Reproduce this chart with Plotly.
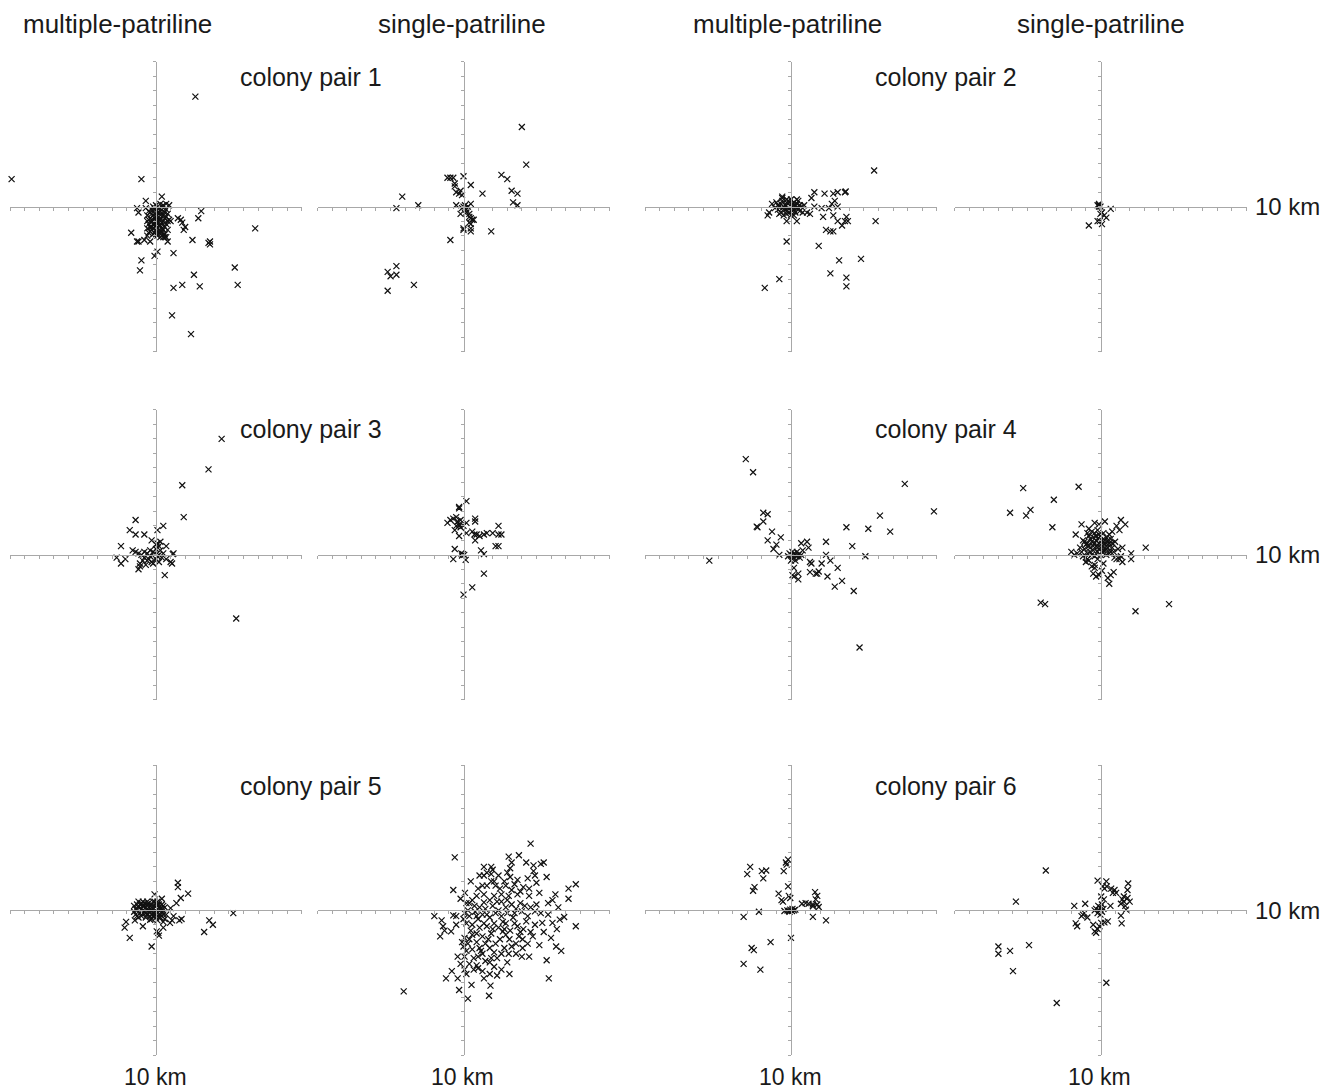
import plotly.graph_objects as go

W, H = 1331, 1092
OFF = 8  # page body margin that the browser adds around the plot div

# ---------------- data (km from colony, x = east, y = north) ----------------
pair1_multi = [(2.7,7.6),(-9.9,1.9),(-1.0,1.9),(0.4,0.7),(-0.7,0.4),(-1.3,-0.1),(-1.2,-0.4),(-0.7,-0.1),
 (0.7,0.2),(0.9,0.1),(1.5,-0.8),(1.7,-0.9),(1.8,-1.1),(2.0,-1.4),(1.9,-1.6),(3.1,-0.3),(2.9,-0.8),
 (2.5,-2.3),(3.7,-2.4),(3.7,-2.6),(3.6,-2.5),(1.2,-3.2),(0.1,-3.1),(-0.1,-3.4),(6.8,-1.5),(5.4,-4.2),
 (5.6,-5.4),(2.6,-4.7),(1.8,-5.4),(1.2,-5.6),(3.0,-5.5),(1.1,-7.5),(2.4,-8.8),(-1.0,-3.7),(-1.1,-4.4),
 (-1.7,-1.8),(-1.3,-2.4),(-1.2,-2.4),(-0.8,-2.3),(-0.4,-2.4),(0.8,-2.4),(0.6,-2.1),
 (-0.5,-0.3),(-0.3,-0.5),(-0.1,-0.2),(0.1,-0.4),(0.3,-0.3),(0.5,-0.6),(0.7,-0.2),(-0.4,-0.8),(-0.2,-1.0),
 (0.0,-0.7),(0.2,-0.9),(0.4,-1.1),(0.6,-0.8),(-0.5,-1.2),(-0.3,-1.4),(-0.1,-1.2),(0.1,-1.5),(0.3,-1.3),
 (0.5,-1.6),(0.7,-1.2),(-0.4,-1.7),(-0.2,-1.9),(0.0,-1.6),(0.2,-1.8),(0.4,-2.0),(0.6,-1.9),(-0.6,-0.6),
 (0.8,-0.5),(0.0,0.1),(0.2,-0.1),(-0.2,0.0),(0.4,0.0),(0.6,-1.4),(-0.6,-1.5),(0.1,-2.0),(-0.1,-1.8),
 (0.3,-0.6),(0.2,-1.3),(-0.3,-0.9),(0.5,-1.0),(0.1,-1.0),(-0.1,-0.5),(0.0,-1.3),(0.4,-1.5),(-0.4,-0.4),
 (0.3,-1.7),(-0.2,-1.5),(0.6,-0.4),(0.9,-0.9),(1.0,-1.0),(0.8,-1.6),(-0.6,-2.0),(0.7,-2.1),
 (-0.5,-0.9),(-0.3,-0.2),(-0.1,-0.8),(0.1,-0.6),(0.3,-0.9),(0.5,-0.3),(0.7,-0.7),(-0.4,-1.4),(-0.2,-1.2),
 (0.0,-1.9),(0.2,-1.6),(0.4,-1.8),(0.6,-1.1),(-0.5,-1.8),(-0.3,-1.6),(0.1,-1.2),(0.3,-2.1),(0.5,-2.1),
 (-0.1,-0.1),(0.3,0.2),(0.5,0.1),(0.0,-1.0),(0.2,-0.4),(-0.6,-1.0),(0.8,-1.0)]

pair1_single = [(4.0,5.5),(4.3,2.9),(2.6,2.2),(3.0,1.9),(3.3,1.1),(3.7,0.9),(3.4,0.3),(3.7,0.1),(1.3,0.9),
 (0.5,1.5),(0.0,2.1),(-1.1,2.0),(-0.9,2.0),(-0.7,2.0),(-0.6,1.6),(-0.6,1.4),(-0.5,1.0),(-0.3,0.9),
 (-0.2,1.1),(-0.1,0.8),(-0.5,0.1),(0.5,0.2),(-4.2,0.7),(-4.6,-0.1),(-3.1,0.1),
 (0.0,0.0),(0.1,-0.1),(0.2,-0.2),(-0.1,-0.1),(0.3,0.0),(0.1,0.1),(0.2,-0.4),(0.4,-0.5),(0.5,-0.8),
 (0.6,-0.9),(0.4,-1.1),(-0.2,-0.5),(0.4,-0.7),(0.7,-0.9),(0.5,-1.2),(0.0,-1.5),(0.0,-1.6),(0.5,-1.5),
 (0.5,-1.7),(1.9,-1.7),(-0.9,-2.3),(-4.6,-4.1),(-5.2,-4.5),(-5.0,-4.8),(-4.6,-4.7),(-3.4,-5.4),(-5.2,-5.8)]

pair2_multi = [(5.7,2.5),(5.8,-1.0),(1.6,1.0),(2.3,0.9),(2.9,0.9),(3.2,1.0),(3.7,1.0),(3.75,1.05),(1.4,0.6),
 (3.0,0.4),(2.8,0.2),(3.2,0.0),(1.6,0.0),(2.1,-0.1),(2.6,-0.1),(0.9,0.1),(1.1,-0.4),(1.3,-0.5),(2.2,-0.7),
 (2.9,-0.6),(3.2,-1.0),(3.5,-1.3),(3.7,-1.0),(3.8,-0.7),(3.9,-1.0),(2.4,-1.6),(2.7,-1.7),(2.9,-1.7),
 (1.9,-2.7),(3.3,-3.7),(4.8,-3.6),(2.7,-4.6),(3.8,-4.9),(3.8,-5.5),(-0.3,-2.4),(-0.8,-5.0),(-1.8,-5.6),
 (-1.5,-0.4),(-1.6,-0.6),(-1.3,0.2),(-0.6,0.7),(0.4,-1.0),(-0.3,-1.0),
 (-1.0,0.3),(-0.8,0.0),(-0.6,0.4),(-0.4,-0.2),(-0.2,0.2),(0.0,0.0),(0.2,0.3),(0.4,-0.1),(0.5,0.4),
 (-0.7,-0.4),(-0.5,-0.6),(-0.3,0.5),(-0.1,-0.4),(0.1,-0.3),(0.3,0.1),(0.6,-0.3),(-0.9,-0.2),(-0.2,-0.1),
 (0.0,0.5),(0.2,-0.6),(-0.4,0.1),(0.4,0.5),(-0.6,-0.1),(0.1,0.2),(-0.3,-0.5),(0.7,0.0),(0.8,-0.4),
 (-0.9,0.1),(-0.7,0.2),(-0.5,0.0),(-0.3,-0.3),(-0.1,0.3),(0.1,0.0),(0.3,-0.4),(0.5,-0.1),(-0.8,-0.5),
 (-0.2,0.4),(0.2,-0.2),(0.4,0.2),(-0.6,0.6),(0.0,-0.6),(0.6,0.1),(-1.1,-0.1)]

pair2_single = [(-0.1,0.2),(-0.1,0.1),(-0.2,0.1),(0.0,0.0),(-0.1,0.0),(0.1,-0.4),(0.0,-0.5),(0.25,-0.6),
 (0.4,-0.75),(0.7,-0.15),(-0.2,-1.0),(-0.05,-1.0),(0.1,-1.2),(-0.8,-1.3)]

pair3_multi = [(4.5,8.0),(3.6,5.9),(1.8,4.8),(1.9,2.6),(5.5,-4.4),(-1.4,2.4),(-1.8,1.7),(-1.4,1.4),(-0.8,1.4),
 (0.1,1.7),(0.5,2.0),(-0.3,1.0),(-2.4,0.6),(-2.7,-0.2),(-2.4,-0.6),(-2.1,-0.3),(-1.6,0.3),(-1.4,0.2),
 (0.7,0.6),(1.2,0.1),(1.15,0.05),(0.7,-0.3),(1.0,-0.5),(1.1,-0.6),(0.6,-1.4),(-1.2,-1.0),(-1.1,-0.8),
 (-1.2,0.1),(-1.0,0.0),(-0.8,-0.2),(-0.6,-0.4),(-0.4,-0.1),(-0.2,0.2),(0.0,0.4),(0.2,0.6),(0.1,0.8),
 (-0.1,0.1),(0.3,0.3),(0.4,-0.2),(-0.3,-0.5),(-0.5,-0.3),(-0.7,-0.7),(-0.9,-0.4),(0.0,-0.3),(0.2,0.0),
 (-0.2,-0.6),(0.1,-0.1),(-0.6,0.1),(0.3,0.9),(0.0,0.7),(-0.4,0.3),(0.5,0.1),(-1.1,-0.6),(0.2,-0.5),(-0.8,0.2)]

pair3_single = [(0.2,3.7),(-0.3,3.2),(-0.3,3.3),(-1.1,2.2),(-0.9,2.4),(-0.7,2.5),(-0.5,2.6),(-0.4,2.3),
 (-0.3,2.1),(-0.2,1.9),(-0.3,2.0),(-0.6,1.7),(-0.3,1.3),(0.2,1.5),(0.2,2.2),(0.8,2.5),(0.8,2.3),(0.6,1.6),
 (0.75,1.4),(0.9,1.4),(0.8,1.0),(1.1,1.3),(1.4,1.4),(1.6,1.5),(2.0,1.5),(2.4,2.0),(2.4,1.4),(2.6,1.4),
 (2.2,0.6),(2.4,0.6),(1.2,0.3),(1.4,0.05),(-0.6,0.4),(-0.7,-0.3),(-0.15,0.1),(-0.05,0.05),(0.05,0.0),
 (-0.1,-0.05),(0.15,-0.35),(1.4,-1.3),(0.6,-2.25),(0.0,-2.75),(-0.5,2.0),(-0.2,2.4),(0.0,2.0)]

pair4_multi = [(-3.1,6.6),(-2.6,5.7),(7.8,4.9),(9.8,3.0),(6.1,2.7),(3.8,1.9),(5.3,1.8),(6.8,1.6),(4.2,0.6),
 (5.1,-0.1),(-1.9,2.9),(-1.6,2.8),(-1.9,2.3),(-2.3,1.9),(-2.35,1.95),(-1.3,1.6),(-0.7,1.2),(-1.6,1.0),
 (-1.0,0.7),(-1.2,0.4),(-0.8,0.0),(-5.6,-0.4),(0.7,0.8),(1.1,0.9),(1.2,0.5),(0.8,0.3),(2.4,0.9),
 (2.4,0.0),(1.3,-0.5),(1.4,-0.6),(2.1,-0.6),(2.7,-0.4),(3.2,-0.9),(1.3,-1.2),(1.7,-1.3),(1.9,-1.15),
 (1.8,-1.3),(2.5,-1.5),(3.0,-2.2),(3.5,-1.8),(4.3,-2.5),(4.7,-6.4),(0.2,-0.9),(0.1,-1.4),(0.5,-1.3),
 (0.5,-1.7),(0.2,-1.5),(0.0,0.0),(0.2,0.1),(0.4,-0.1),(0.1,-0.3),(-0.1,0.1),(0.3,-0.4),(0.5,0.0),
 (0.2,-0.2),(0.0,-0.4),(0.6,-0.2),(-0.2,-0.1),(0.4,0.2),(0.1,0.2),(0.3,0.0),(0.7,0.0)]

pair4_single = [(-5.3,4.6),(-1.5,4.7),(-3.2,3.8),(-6.2,2.9),(-5.1,2.7),(-4.8,3.1),(-3.3,1.9),(-1.7,1.4),
 (-4.1,-3.3),(-3.8,-3.4),(2.4,-3.9),(4.7,-3.4),(3.1,0.5),(2.1,0.1),(2.1,-0.3),(1.4,2.4),(1.7,2.1),
 (1.3,1.7),(1.1,2.0),(0.3,2.3),(-0.1,2.1),(-0.4,2.2),(-1.3,2.1),(1.5,0.5),(1.4,-0.1),(1.3,-0.3),
 (1.5,-0.5),(0.96,-0.2),(1.1,-0.3),(0.2,-0.6),(0.1,-1.1),(0.9,-1.2),(0.7,-1.4),(0.5,-1.6),(0.6,-2.0),
 (-0.1,-1.4),(-0.3,-1.5),(-0.5,-1.3),(-0.4,-0.7),(-1.0,-0.5),(-0.9,-0.3),(-2.0,0.2),(-1.8,0.0),(-1.6,0.1),
 (-1.4,0.5),(-1.2,1.0),(-1.0,0.7),(-0.8,1.3),(-0.6,0.9),(-0.4,1.5),(-0.2,1.1),(0.0,1.3),(0.2,0.9),
 (0.4,1.2),(0.6,0.8),(0.8,0.5),(1.0,0.9),(-1.3,0.2),(-1.1,0.4),(-0.9,0.1),(-0.7,0.5),(-0.5,0.3),
 (-0.3,0.6),(-0.1,0.4),(0.1,0.6),(0.3,0.3),(0.5,0.5),(0.7,0.2),(-0.6,1.6),(-0.2,1.7),(0.2,1.5),(0.6,1.4),
 (-0.8,1.8),(0.0,0.0),(-0.4,-0.1),(0.4,0.0),(-0.2,0.2),(0.1,1.0),(-0.5,1.2),(0.3,0.7),(-0.1,0.8),
 (-0.3,1.0),(0.5,1.0),(0.0,0.5),(-0.7,0.2),(-1.0,-0.2),(-0.8,-0.4),(-0.6,-0.8),(-0.4,-0.9),(0.9,0.2),
 (1.2,0.4),(-0.9,1.5),(0.8,1.6),(-1.2,-0.1),
 (-0.9,0.8),(-0.7,1.1),(-0.5,0.6),(-0.3,1.3),(-0.1,1.4),(0.1,0.2),(0.3,1.0),(0.5,0.7),(0.7,1.1),
 (-0.6,0.0),(-0.2,0.5),(0.2,0.3),(0.4,0.4),(-1.1,0.9),(0.0,0.9),(-0.4,0.8),(0.6,0.1),(-0.8,0.6),
 (0.8,0.8),(-0.2,-0.3)]

pair5_multi = [(1.5,1.9),(1.5,1.6),(2.2,1.15),(1.7,0.85),(-0.1,1.1),(0.4,0.8),(1.4,0.5),(1.0,0.15),(5.3,-0.2),
 (3.65,-0.7),(3.9,-1.0),(3.3,-1.5),(1.75,-0.6),(1.6,-0.7),(1.2,-0.4),(1.1,-0.7),(0.96,-0.87),(0.5,-1.2),
 (0.16,-1.56),(0.05,-1.45),(0.2,-1.75),(-0.3,-2.5),(-1.8,-1.9),(-2.05,-0.8),(-2.15,-1.2),(-1.45,-0.7),
 (-0.9,-1.1),(-0.4,-0.65),
 (-1.5,0.3),(-1.3,0.0),(-1.1,0.4),(-0.9,-0.2),(-0.7,0.2),(-0.5,0.5),(-0.3,0.0),(-0.1,0.3),(0.1,-0.2),
 (0.3,0.1),(0.5,-0.3),(0.6,0.2),(-1.4,-0.3),(-1.2,0.6),(-1.0,-0.4),(-0.8,0.5),(-0.6,-0.3),(-0.4,0.3),
 (-0.2,-0.4),(0.0,0.5),(0.2,-0.5),(0.4,0.4),(-1.0,0.1),(-0.8,-0.1),(-0.6,0.0),(-0.4,-0.1),(-0.2,0.1),
 (0.0,0.0),(0.2,0.2),(0.4,-0.1),(-1.2,0.2),(-0.9,0.3),(-0.5,0.2),(-0.1,-0.2),(0.3,-0.3),(0.6,-0.6),
 (-0.7,-0.5),(-0.3,-0.6),(0.1,-0.7),(0.5,-0.8),(-1.4,0.1),(-0.2,0.6),(0.1,0.4),(-0.6,0.6),(0.7,-0.3),
 (-1.3,0.4),(-1.1,-0.2),(-0.9,0.6),(-0.7,-0.2),(-0.5,-0.1),(-0.3,0.4),(-0.1,0.6),(0.1,0.1),(0.3,-0.5),
 (0.5,0.3),(-1.2,-0.5),(-0.8,0.3),(-0.4,-0.4),(0.0,-0.5),(0.2,0.4),(-1.0,0.5),(-0.6,0.4),(-0.2,-0.2),
 (0.4,0.1),(-1.5,-0.1),(-1.3,-0.4),(-0.9,0.0),(-0.3,0.2),(0.1,0.6)]

pair5_single = [(4.6,4.6),(-0.6,3.65),(3.1,3.7),(3.8,3.8),(3.3,3.3),(3.2,2.9),(4.3,3.3),(4.8,3.1),(5.3,3.2),
 (5.5,3.3),(1.4,3.0),(1.9,3.0),(2.0,2.8),(1.1,2.4),(1.4,2.4),(1.9,2.5),(3.0,2.6),(3.2,2.3),(3.7,2.1),
 (4.8,2.7),(4.9,2.4),(5.0,1.9),(5.7,2.3),(1.3,1.7),(1.6,1.7),(1.9,2.0),(2.1,2.0),(2.2,1.7),(2.8,2.0),
 (2.9,1.7),(3.5,1.8),(4.1,1.6),(4.5,1.5),(-0.7,1.4),(-0.2,0.8),(0.9,1.0),(1.4,1.1),(2.1,1.0),(2.6,1.1),
 (3.1,1.0),(3.7,1.1),(4.5,1.0),(6.3,1.1),(6.1,0.7),(7.2,0.8),(7.2,1.5),(7.7,1.8),(0.2,0.5),(0.4,0.5),
 (0.75,0.3),(1.4,0.55),(2.0,0.3),(2.6,0.6),(3.3,0.4),(3.6,0.1),(4.0,-0.07),(4.6,0.2),(4.9,-0.07),
 (5.3,-0.2),(-2.0,-0.4),(-1.5,-0.7),(-1.4,-1.1),(-1.3,-1.4),(-1.6,-1.8),(-0.85,-1.45),(-0.7,-0.35),
 (-0.5,-0.4),(0.07,-0.2),(0.4,-0.4),(0.2,-0.9),(0.6,-1.0),(1.0,-0.6),(1.3,-0.3),(1.8,-0.5),(2.1,-0.9),
 (2.6,-0.4),(2.9,-0.9),(3.4,-0.5),(3.7,-1.1),(4.3,-0.76),(4.9,-1.0),(5.4,-0.87),(6.1,-0.87),(6.6,-0.64),
 (6.9,-0.46),(7.7,-1.1),(0.07,-1.9),(0.6,-1.7),(1.3,-1.8),(1.9,-1.6),(2.7,-1.45),(3.15,-2.0),(4.05,-2.0),
 (4.75,-1.8),(5.2,-2.4),(6.35,-2.5),(6.7,-2.8),(-0.4,-3.2),(0.07,-3.2),(0.6,-2.7),(1.2,-2.8),(1.8,-2.6),
 (2.1,-2.9),(2.8,-2.6),(4.05,-2.6),(4.0,-3.2),(4.5,-3.2),(5.7,-3.45),(-0.8,-4.2),(-0.4,-4.7),(0.07,-4.1),
 (0.7,-4.1),(1.0,-4.0),(1.8,-3.6),(1.8,-4.4),(2.6,-4.1),(3.15,-4.4),(5.85,-4.7),(-1.2,-4.7),(-0.3,-5.5),
 (0.3,-6.1),(0.55,-5.15),(1.85,-5.2),(1.75,-5.9),(-4.1,-5.6),
 (0.3,0.0),(0.8,-0.1),(1.5,0.1),(2.2,-0.2),(2.9,0.2),(3.5,-0.2),(0.5,-1.4),(1.1,-1.2),(1.6,-1.1),
 (2.4,-1.2),(3.2,-1.4),(3.9,-1.5),(0.3,-2.3),(0.9,-2.2),(1.5,-2.3),(2.2,-2.3),(2.9,-1.7),(3.6,-2.3),
 (0.2,-2.8),(1.0,-3.2),(1.5,-3.5),(2.3,-3.3),(0.4,-3.7),(1.3,-4.2),(2.1,-3.9),
 (0.5,2.0),(1.0,1.5),(1.6,2.6),(2.4,2.4),(2.5,1.5),(3.3,1.4),(3.9,1.3),(4.4,2.2),(5.2,1.2),(5.8,0.5),
 (6.5,0.2),(0.1,1.2),(0.6,0.7),(1.1,0.2),(1.8,0.7),(2.4,0.0),(3.0,-0.2),(3.9,0.5),(4.4,-0.4),(5.0,0.4),
 (5.8,-0.3),(6.4,-1.3),(0.0,-0.6),(0.9,-1.6),(1.4,-0.9),(2.0,-1.3),(2.7,-0.8),(3.5,-0.9),(4.1,-1.3),
 (4.6,-1.5),(5.5,-1.5),(6.0,-1.9),(0.4,-2.0),(1.1,-2.6),(1.7,-2.0),(2.5,-2.0),(3.3,-2.5),(3.8,-1.8),
 (4.4,-2.3),(0.0,-2.5),(0.7,-3.3),(1.3,-3.0),(1.9,-3.3),(2.6,-3.0),(3.0,-3.6),(3.6,-3.0),(0.2,-4.4),
 (0.9,-3.8),(1.4,-4.7),(2.3,-4.5),(-0.2,-3.7),(-0.1,-2.2),(-0.5,-1.0),(1.6,-0.3),(2.3,0.6),(3.0,0.7),
 (4.2,0.3),(0.9,-0.4),(2.8,-1.3),(3.1,-3.0)]

pair6_multi = [(-0.2,3.5),(-0.35,3.3),(-0.3,3.15),(-0.5,2.7),(-2.8,3.0),(-3.0,2.5),(-2.0,2.7),(-1.7,2.75),
 (-1.9,2.2),(-2.5,1.6),(-2.6,1.35),(-0.85,1.15),(-0.2,1.65),(-0.15,1.0),(-0.05,0.85),(-0.65,0.7),
 (-0.55,0.6),(-3.25,-0.45),(-2.2,-0.1),(-0.45,-0.05),(-0.25,0.0),(-0.15,-0.05),(-0.05,0.05),(0.07,-0.05),
 (0.2,0.0),(0.1,0.1),(-0.1,-0.1),(0.3,0.05),(0.75,0.45),(1.0,0.5),(1.2,0.45),(1.5,0.4),(1.65,1.25),
 (1.8,1.0),(1.7,0.75),(1.8,0.4),(1.9,0.23),(1.5,0.28),(1.5,-0.45),(2.4,-0.7),(0.0,-1.9),(-1.4,-2.2),
 (-2.7,-2.6),(-2.55,-2.75),(-3.25,-3.7),(-2.1,-4.1)]

pair6_single = [(-3.75,2.75),(-5.8,0.6),(-7.0,-2.5),(-7.0,-3.0),(-6.2,-2.8),(-4.9,-2.4),(-6.0,-4.2),
 (-3.0,-6.4),(0.4,-5.0),(-1.8,0.3),(-1.05,0.45),(-1.7,-0.9),(-1.6,-1.1),(-1.3,-0.4),(-1.1,-0.2),
 (-1.2,-0.3),(-0.9,-0.5),(-0.5,-1.0),(-0.4,-1.45),(-0.3,-1.55),(-0.2,-1.3),(-0.07,-1.1),(0.05,-0.87),
 (0.27,-0.83),(0.5,-0.76),(-0.2,2.05),(0.4,2.0),(0.16,1.65),(0.27,1.5),(0.43,1.65),(0.73,1.5),(0.96,1.4),
 (1.07,1.2),(0.85,1.2),(0.05,0.95),(0.23,0.75),(0.68,0.3),(1.9,1.85),(1.85,1.4),(1.6,0.95),(1.5,0.75),
 (1.4,0.45),(1.7,0.3),(1.6,0.6),(1.85,0.85),(2.0,0.6),(1.4,-0.37),(1.45,-0.9),(1.75,0.05),
 (-0.3,0.1),(-0.1,0.0),(0.0,0.2),(-0.2,-0.2),(0.1,-0.1),(-0.4,0.0),(0.0,-0.3),(0.2,0.1),(-0.15,0.3),(0.1,0.4)]

column_labels = ["multiple-patriline", "single-patriline", "multiple-patriline", "single-patriline"]
pair_labels = ["colony pair 1", "colony pair 2", "colony pair 3", "colony pair 4", "colony pair 5", "colony pair 6"]
scale_label = "10 km"
axis_half_km = 10

panels = [
    [pair1_multi, pair1_single, pair2_multi, pair2_single],
    [pair3_multi, pair3_single, pair4_multi, pair4_single],
    [pair5_multi, pair5_single, pair6_multi, pair6_single],
]

# ---------------- layout geometry (page pixels) ----------------
FW, FH = W - OFF, H - OFF          # figure size (div starts at page pixel OFF)
def px(x):  # page x -> paper fraction
    return (x - OFF) / FW
def py(y):  # page y -> paper fraction
    return 1 - (y - OFF) / FH

col_cx = [156, 463.5, 791, 1100.5]
row_cy = [206.7, 554.8, 910.3]
half_w, half_h = 146, 145

fig = go.Figure()
FONT = "Liberation Sans, Arial, Helvetica, sans-serif"
axis_color = "#a8a8a8"

k = 0
for r, row in enumerate(panels):
    for c, pts in enumerate(row):
        k += 1
        xa = "x" if k == 1 else f"x{k}"
        ya = "y" if k == 1 else f"y{k}"
        cx, cy = col_cx[c], row_cy[r]
        fig.add_trace(go.Scatter(
            x=[p[0] for p in pts], y=[p[1] for p in pts], mode="markers",
            marker=dict(symbol="x-thin", size=6, line=dict(color="#111111", width=1.2)),
            xaxis=xa, yaxis=ya, cliponaxis=False, hoverinfo="x+y"))
        common = dict(range=[-axis_half_km - 0.01, axis_half_km + 0.01], showgrid=False, zeroline=False,
                      showline=True, linecolor=axis_color, linewidth=1, ticks="outside", ticklen=3,
                      tickcolor=axis_color, tickwidth=1, dtick=1, tick0=0, showticklabels=False,
                      anchor="free", fixedrange=True)
        xname = "xaxis" if k == 1 else f"xaxis{k}"
        yname = "yaxis" if k == 1 else f"yaxis{k}"
        fig.layout[xname] = dict(domain=[px(cx - half_w), px(cx + half_w)], position=py(cy), **common)
        fig.layout[yname] = dict(domain=[py(cy + half_h), py(cy - half_h)], position=px(cx), **common)

ann = []
header_cx = [117, 462, 788, 1101]
for cxh, txt in zip(header_cx, column_labels):
    ann.append(dict(x=px(cxh), y=py(24), text=txt, font_size=26))
pair_cx = [311, 946]
pair_cy = [77, 429, 786]
i = 0
for r in range(3):
    for c in range(2):
        ann.append(dict(x=px(pair_cx[c]), y=py(pair_cy[r]), text=pair_labels[i], font_size=25))
        i += 1
for r in range(3):
    ann.append(dict(x=px(1287), y=py(row_cy[r]), text=scale_label, font_size=24))
for c in range(4):
    ann.append(dict(x=px(col_cx[c] - 1), y=py(1077), text=scale_label, font_size=23))
for a in ann:
    fs = a.pop("font_size")
    a.update(xref="paper", yref="paper", showarrow=False, xanchor="center", yanchor="middle",
             borderpad=0, font=dict(family=FONT, size=fs, color="#1a1a1a"))

fig.update_layout(width=FW, height=FH, margin=dict(l=0, r=0, t=0, b=0), paper_bgcolor="white",
                  plot_bgcolor="white", showlegend=False, annotations=ann)

fig.write_html("out.html")
